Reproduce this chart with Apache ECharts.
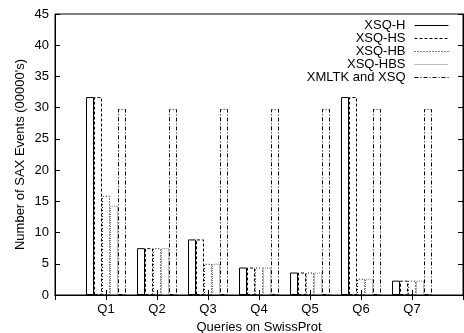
<!DOCTYPE html>
<html>
<head>
<meta charset="utf-8">
<script src="https://cdn.jsdelivr.net/npm/echarts@6/dist/echarts.min.js"></script>
<style>
  html, body { margin: 0; padding: 0; background: #fff; }
  #main { width: 464px; height: 333px; }
</style>
</head>
<body>
<div id="main"></div>
<script>
  // queries on the x axis
  const categories = ["Q1", "Q2", "Q3", "Q4", "Q5", "Q6", "Q7"];
  // number of SAX events (00000's)
  const xsqH = [31.7, 7.5, 8.9, 4.4, 3.6, 31.7, 2.3];
  const xsqHS = [31.7, 7.5, 8.9, 4.4, 3.6, 31.7, 2.3];
  const xsqHB = [15.9, 7.5, 5.0, 4.4, 3.6, 2.6, 2.3];
  const xsqHBS = [14.3, 7.5, 5.0, 4.4, 3.6, 2.6, 2.3];
  const xmltk = [29.8, 29.8, 29.8, 29.8, 29.8, 29.8, 29.8];
  const yTicks = [0, 5, 10, 15, 20, 25, 30, 35, 40, 45];

  // empty slot on each side, like the original plot
  const axisCats = [""].concat(categories).concat([""]);
  function pad(arr) {
    return ["-"].concat(arr).concat(["-"]);
  }

  const font = "Liberation Sans, Arial, sans-serif";
  const lineIcon = "path://M0 5 L34 5 M0 0 L0 0 M0 10 L0 10";

  // name, dash pattern, colour
  const styles = [
    ["XSQ-H", "solid", "#000"],
    ["XSQ-HS", [3, 2], "#000"],
    ["XSQ-HB", [1, 2], "#000"],
    ["XSQ-HBS", [1, 1], "#777"],
    ["XMLTK and XSQ", [4, 2, 1, 2], "#000"],
  ];
  const values = [xsqH, xsqHS, xsqHB, xsqHBS, xmltk];

  function makeSeries(s, data) {
    return {
      name: s[0],
      type: "bar",
      data: pad(data),
      barWidth: 8,
      barGap: "0%",
      itemStyle: {
        color: "rgba(255,255,255,0)",
        borderColor: s[2],
        borderWidth: 1,
        borderType: s[1],
      },
      emphasis: { disabled: true },
    };
  }

  var myChart = echarts.init(document.getElementById("main"));

  var option = {
    animation: false,
    backgroundColor: "#fff",
    textStyle: { fontFamily: font },
    grid: {
      left: 55,
      right: 1,
      top: 14,
      bottom: 38,
      outerBoundsMode: "none",
      show: true,
      borderColor: "#000",
      borderWidth: 1,
    },
    legend: {
      orient: "vertical",
      right: 15,
      top: 19,
      padding: 0,
      align: "right",
      icon: lineIcon,
      itemWidth: 34,
      itemHeight: 10,
      itemGap: 0,
      textStyle: {
        fontFamily: font,
        fontSize: 13,
        lineHeight: 13,
        color: "#000",
        padding: [0, 4, 0, 0],
      },
      data: styles.map((s) => ({
        name: s[0],
        itemStyle: {
          color: "rgba(255,255,255,0)",
          borderColor: s[2],
          borderWidth: 1,
          borderType: s[1],
        },
      })),
    },
    xAxis: [
      {
        type: "category",
        data: axisCats,
        boundaryGap: false,
        name: "Queries on SwissProt",
        nameLocation: "middle",
        nameGap: 24,
        nameTextStyle: { fontFamily: font, fontSize: 13, color: "#000" },
        axisLine: { lineStyle: { color: "#000" } },
        axisTick: { inside: true, length: 5, lineStyle: { color: "#000" } },
        axisLabel: { fontFamily: font, fontSize: 13, color: "#000", margin: 8, interval: 0 },
        splitLine: { show: false },
      },
      {
        type: "category",
        data: axisCats,
        boundaryGap: false,
        position: "top",
        axisLine: { lineStyle: { color: "#000" } },
        axisTick: { inside: true, length: 5, lineStyle: { color: "#000" } },
        axisLabel: { show: false },
        splitLine: { show: false },
      },
    ],
    yAxis: [
      {
        type: "value",
        min: yTicks[0],
        max: yTicks[yTicks.length - 1],
        interval: 5,
        name: "Number of SAX Events (00000's)",
        nameLocation: "middle",
        nameGap: 28,
        nameMoveOverlap: false,
        nameTextStyle: { fontFamily: font, fontSize: 13, color: "#000" },
        axisLine: { show: true, lineStyle: { color: "#000" } },
        axisTick: { show: true, inside: true, length: 5, lineStyle: { color: "#000" } },
        axisLabel: { fontFamily: font, fontSize: 13, color: "#000", margin: 6 },
        splitLine: { show: false },
      },
      {
        type: "value",
        min: yTicks[0],
        max: yTicks[yTicks.length - 1],
        interval: 5,
        position: "right",
        axisLine: { show: true, lineStyle: { color: "#000" } },
        axisTick: { show: true, inside: true, length: 5, lineStyle: { color: "#000" } },
        axisLabel: { show: false },
        splitLine: { show: false },
      },
    ],
    series: styles.map((s, i) => makeSeries(s, values[i])),
  };

  myChart.setOption(option);
</script>
</body>
</html>
